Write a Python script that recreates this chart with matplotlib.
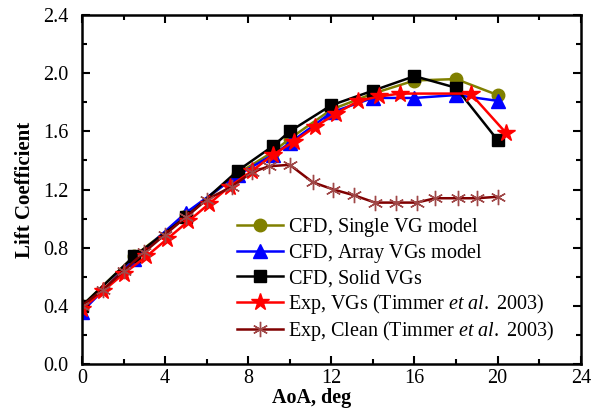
import matplotlib
matplotlib.use("Agg")
import matplotlib.pyplot as plt
from matplotlib.ticker import MultipleLocator

plt.rcParams['font.family'] = ['Liberation Serif', 'DejaVu Serif']
plt.rcParams['mathtext.fontset'] = 'custom'
plt.rcParams['mathtext.it'] = 'Liberation Serif:italic'
plt.rcParams['mathtext.rm'] = 'Liberation Serif'

# CFD results
cfd_aoa = [0, 2.5, 5, 7.5, 9.2, 10, 12, 14, 16, 18, 20]
single_vg = [0.40, 0.74, 1.02, 1.31, 1.46, 1.55, 1.75, 1.86, 1.95, 1.96, 1.85]
array_vg = [0.36, 0.72, 1.04, 1.30, 1.44, 1.52, 1.73, 1.83, 1.83, 1.85, 1.81]
solid_vg = [0.40, 0.74, 1.01, 1.33, 1.50, 1.60, 1.78, 1.88, 1.98, 1.90, 1.54]

# experiment, with VGs
exp_vg_aoa = [0, 1.0, 2.0, 3.1, 4.1, 5.1, 6.1, 7.1, 8.2, 9.2, 10.2, 11.2, 12.2,
              13.3, 14.3, 15.3, 18.7, 20.4]
exp_vg = [0.38, 0.50, 0.62, 0.74, 0.86, 0.98, 1.10, 1.22, 1.33, 1.44, 1.53, 1.63,
          1.72, 1.81, 1.84, 1.86, 1.86, 1.59]

# experiment, clean
exp_clean_aoa = [0, 1, 2, 3, 4, 5, 6, 7.2, 8.2, 9.0, 10.0, 11.1, 12.1, 13.1, 14.1,
                 15.1, 16.1, 17.0, 18.1, 19.0, 20.0]
exp_clean = [0.40, 0.51, 0.64, 0.77, 0.89, 1.01, 1.13, 1.22, 1.32, 1.36, 1.37, 1.25,
             1.20, 1.16, 1.11, 1.11, 1.11, 1.14, 1.14, 1.14, 1.15]

# all labels through mathtext so the legend rows get the same height
# ({,} keeps mathtext from adding punctuation space after the comma)
labels = [r'$\mathrm{CFD{,}\ Single\ VG\ model}$',
          r'$\mathrm{CFD{,}\ Array\ VGs\ model}$',
          r'$\mathrm{CFD{,}\ Solid\ VGs}$',
          r'$\mathrm{Exp{,}\ VGs\ (Timmer\ }\mathit{et\ al}\mathrm{.\ 2003)}$',
          r'$\mathrm{Exp{,}\ Clean\ (Timmer\ }\mathit{et\ al}\mathrm{.\ 2003)}$']

fig = plt.figure(figsize=(5.92, 4.08), dpi=100)
ax = fig.add_axes([0.1385, 0.108, 0.8425, 0.855])

lw = 1.8
ax.plot(cfd_aoa, single_vg, color='#808000', marker='o', ms=9, lw=lw, label=labels[0])
ax.plot(cfd_aoa, array_vg, color='#0000ff', marker='^', ms=10, lw=lw, label=labels[1])
ax.plot(cfd_aoa, solid_vg, color='black', marker='s', ms=9, lw=lw, label=labels[2])
ax.plot(exp_vg_aoa, exp_vg, color='#ff0000', marker='*', ms=13, lw=lw, label=labels[3])
ax.plot(exp_clean_aoa, exp_clean, color='#800000', marker=(6, 2, 0), ms=11,
        mew=1.0, mec='#a04848', lw=lw, label=labels[4])

ax.set_xlim(0, 24)
ax.set_ylim(0, 2.4)
ax.xaxis.set_major_locator(MultipleLocator(4))
ax.xaxis.set_minor_locator(MultipleLocator(2))
ax.yaxis.set_major_locator(MultipleLocator(0.4))
ax.yaxis.set_minor_locator(MultipleLocator(0.2))
ax.yaxis.set_major_formatter(matplotlib.ticker.FormatStrFormatter('%.1f'))
ax.tick_params(which='both', direction='in', top=True, right=True, width=1.5,
               labelsize=14.5)
ax.tick_params(which='major', length=6)
ax.tick_params(which='minor', length=3.5)
ax.tick_params(axis='y', pad=10)
ax.tick_params(axis='x', pad=4)
for sp in ax.spines.values():
    sp.set_linewidth(1.8)

ax.set_xlabel('AoA, deg', fontsize=14.5, fontweight='bold')
ax.set_ylabel('Lift Coefficient', fontsize=15, fontweight='bold')
ax.xaxis.set_label_coords(0.46, -0.07)
ax.xaxis.label.set_va('top')
ax.yaxis.set_label_coords(-0.095, 0.5)

ax.legend(loc='upper left', bbox_to_anchor=(0.31, 0.425), frameon=False,
          fontsize=14.5, handlelength=2.3, handletextpad=0.25, labelspacing=0.15,
          borderpad=0, borderaxespad=0)

fig.savefig('out.png', dpi=100)
